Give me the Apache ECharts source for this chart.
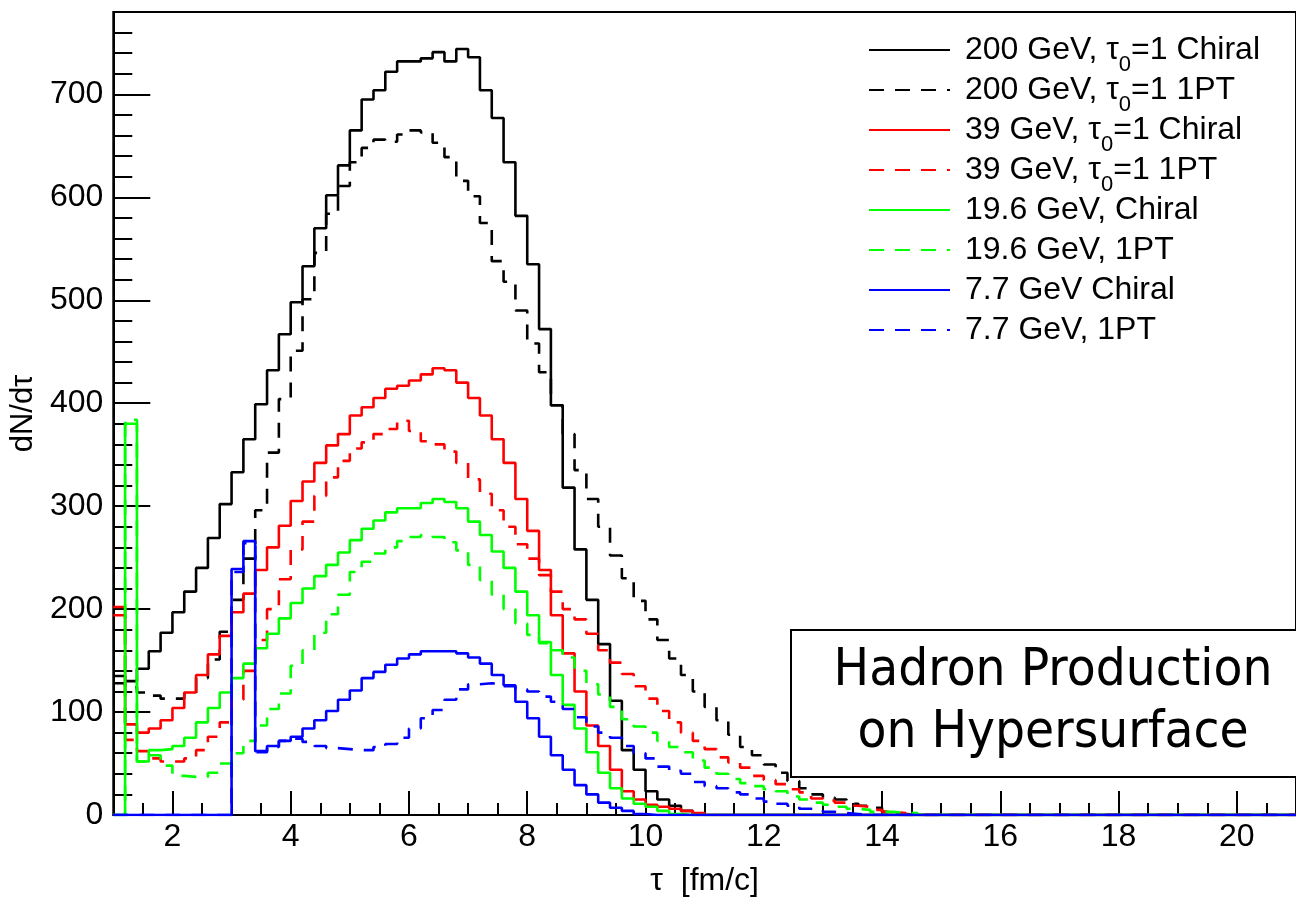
<!DOCTYPE html>
<html>
<head>
<meta charset="utf-8">
<script src="https://cdn.jsdelivr.net/npm/echarts/dist/echarts.min.js"></script>
<style>
  html, body { margin: 0; padding: 0; background: #fff; }
  #chart { width: 1296px; height: 902px; }
</style>
</head>
<body>
<div id="chart"></div>
<script>
// Histogram bins: left edges start at 1.0, width 0.2 (fm/c)
const binStart = 1.0;
const binWidth = 0.2;
const xMin = 1, xMax = 21;
const yMin = 0, yMax = 780;
const xMajorTicks = [2, 4, 6, 8, 10, 12, 14, 16, 18, 20];
const yMajorTicks = [0, 100, 200, 300, 400, 500, 600, 700];

const seriesNames = [
  '200 GeV, τ0=1 Chiral',
  '200 GeV, τ0=1 1PT',
  '39 GeV, τ0=1 Chiral',
  '39 GeV, τ0=1 1PT',
  '19.6 GeV, Chiral',
  '19.6 GeV, 1PT',
  '7.7 GeV Chiral',
  '7.7 GeV, 1PT'
];

// bin contents (dN/dτ) from τ = 1.0 upward, bins of 0.2
const chiral200 = [135,130,142,159,177,197,217,240,269,302,333,365,399,432,467,498,533,570,602,631,
  665,695,704,722,732,732,735,741,732,744,736,704,677,634,582,535,472,398,318,258,
  209,166,111,63,44,23,15,9,4,0];
const pt200 = [128,124,119,116,113,113,118,133,151,178,209,249,296,352,404,451,501,546,584,611,
  634,648,656,654,661,665,663,653,639,616,601,575,538,518,490,458,430,398,370,335,
  307,280,252,230,208,190,170,152,136,120,105,92,78,66,58,49,41,33,26,20,
  17,15,11,9,7,3,1,0];
const chiral39 = [202,88,80,84,92,104,119,136,156,174,197,215,238,260,281,305,324,342,359,370,
  388,396,405,414,417,422,428,434,432,420,405,388,365,342,307,276,238,194,157,120,
  87,67,44,23,15,10,8,6,4,2,0];
const pt39 = [194,73,62,55,52,52,55,63,76,90,112,140,170,200,229,258,285,310,328,344,
  356,362,370,375,383,373,363,360,353,342,326,312,296,280,263,249,233,217,200,190,
  176,160,148,137,125,113,101,90,80,72,64,56,51,46,38,34,30,25,22,16,
  14,12,9,8,5,3,2,0];
const chiral19 = [0,380,52,63,64,67,75,90,104,119,133,147,162,176,191,206,220,232,243,255,
  267,278,286,294,298,298,303,307,304,298,285,272,256,240,217,194,168,136,107,84,
  61,41,26,16,11,8,4,1,0];
const pt19 = [0,384,52,58,48,38,37,37,41,50,60,72,87,103,118,145,160,177,195,214,
  236,246,254,260,266,270,272,270,265,257,243,228,214,200,186,175,167,160,153,140,
  127,117,105,93,86,80,72,66,61,53,46,40,35,31,28,25,23,18,15,12,
  10,8,6,5,3,3,2,2,0];
const chiral7 = [0,0,0,0,0,0,0,0,0,0,239,266,62,67,72,76,84,92,101,112,
  121,133,139,146,152,156,159,159,159,157,153,147,136,126,110,94,76,58,44,29,
  20,12,7,4,1,0];
const pt7 = [0,0,0,0,0,0,0,0,0,0,236,264,61,66,72,74,71,67,65,64,
  63,63,66,69,75,84,94,102,112,122,127,128,127,125,122,120,115,110,103,95,
  86,80,75,67,60,55,47,43,40,32,28,26,22,20,16,13,11,9,6,5,
  3,2,1,0];

const seriesValues = [chiral200, pt200, chiral39, pt39, chiral19, pt19, chiral7, pt7];
const seriesColors = ['#000000', '#000000', '#ff0000', '#ff0000', '#00ff00', '#00ff00', '#0000ff', '#0000ff'];
const seriesDashed = [false, true, false, true, false, true, false, true];

function histPoints(vals) {
  const pts = [];
  for (let i = 0; i < vals.length; i++) {
    pts.push([+(binStart + i * binWidth).toFixed(4), vals[i]]);
  }
  pts.push([+(binStart + vals.length * binWidth).toFixed(4), 0]);
  pts.push([xMax, 0]);
  return pts;
}

const FONT = '"Liberation Sans", Arial, Helvetica, sans-serif';

const series = seriesValues.map((vals, k) => ({
  name: seriesNames[k],
  type: 'line',
  step: 'end',
  symbol: 'none',
  showSymbol: false,
  xAxisIndex: 0,
  yAxisIndex: 0,
  data: histPoints(vals),
  lineStyle: {
    color: seriesColors[k],
    width: 2.6,
    type: seriesDashed[k] ? [15, 11] : 'solid'
  },
  itemStyle: { color: seriesColors[k] },
  emphasis: { disabled: true },
  animation: false
}));

const chart = echarts.init(document.getElementById('chart'), null, { renderer: 'canvas' });
chart.setOption({
  animation: false,
  backgroundColor: '#ffffff',
  textStyle: { fontFamily: FONT },
  grid: {
    left: 112, top: 12, right: -7, bottom: 85,
    show: true, borderColor: '#000', borderWidth: 2, backgroundColor: 'transparent'
  },
  xAxis: [
    {
      type: 'value', min: xMin, max: xMax, position: 'bottom',
      name: 'τ  [fm/c]', nameLocation: 'middle', nameGap: 50,
      nameTextStyle: { fontSize: 32, color: '#000', fontFamily: FONT },
      axisLine: { show: true, onZero: false, lineStyle: { color: '#000', width: 2 } },
      axisTick: { show: true, inside: true, length: 24, customValues: xMajorTicks, lineStyle: { color: '#000', width: 2 } },
      axisLabel: { show: true, customValues: xMajorTicks, fontSize: 32, margin: 6, color: '#000', fontFamily: FONT },
      splitLine: { show: false }
    },
    {
      type: 'value', min: xMin, max: xMax, interval: 0.5, position: 'bottom',
      axisLine: { show: false },
      axisTick: { show: true, inside: true, length: 12, lineStyle: { color: '#000', width: 2 } },
      axisLabel: { show: false },
      splitLine: { show: false }
    }
  ],
  yAxis: [
    {
      type: 'value', min: yMin, max: yMax, position: 'left',
      name: 'dN/dτ', nameLocation: 'middle', nameGap: 68,
      nameTextStyle: { fontSize: 31, color: '#000', fontFamily: FONT },
      axisLine: { show: true, onZero: false, lineStyle: { color: '#000', width: 2 } },
      axisTick: { show: true, inside: true, length: 37, customValues: yMajorTicks, lineStyle: { color: '#000', width: 2 } },
      axisLabel: { show: true, customValues: yMajorTicks, fontSize: 32, margin: 10, color: '#000', fontFamily: FONT },
      splitLine: { show: false }
    },
    {
      type: 'value', min: yMin, max: yMax, interval: 20, position: 'left',
      axisLine: { show: false },
      axisTick: { show: true, inside: true, length: 19, lineStyle: { color: '#000', width: 2 } },
      axisLabel: { show: false },
      splitLine: { show: false }
    }
  ],
  legend: {
    orient: 'vertical',
    left: 868, top: 24,
    padding: 0,
    itemWidth: 81, itemHeight: 14, itemGap: -12,
    selectedMode: false,
    data: seriesNames,
    itemStyle: { opacity: 0 },
    formatter: (name) => name.replace('τ0', 'τ{s|0}'),
    textStyle: {
      fontSize: 32, color: '#000', fontFamily: FONT, lineHeight: 52,
      padding: [0, 0, 0, 10],
      rich: {
        s: { fontSize: 22, lineHeight: 52, padding: [30, 0, 0, 0], color: '#000', fontFamily: FONT }
      }
    }
  },
  graphic: [
    {
      type: 'rect', z: 100,
      shape: { x: 791, y: 630, width: 560, height: 147 },
      style: { fill: '#ffffff', stroke: '#000000', lineWidth: 2 }
    },
    {
      type: 'text', z: 101,
      x: 1053, y: 702, scaleX: 0.91,
      style: {
        text: 'Hadron Production\non Hypersurface',
        font: '52px "DejaVu Sans"',
        lineHeight: 62,
        textAlign: 'center', textVerticalAlign: 'middle',
        fill: '#000000'
      }
    }
  ],
  series: series
});
</script>
</body>
</html>
